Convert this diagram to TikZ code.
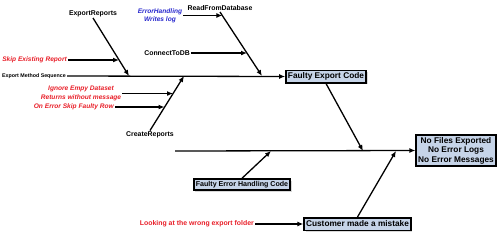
\documentclass[tikz,border=0pt]{standalone}
\usepackage{fontspec}
\setmainfont{Liberation Sans}
\usetikzlibrary{arrows.meta,shadows}
\definecolor{boxfill}{RGB}{198,212,232}
\definecolor{causered}{RGB}{232,30,40}
\definecolor{causeblue}{RGB}{40,40,205}

\begin{document}
\begin{tikzpicture}[x=1pt,y=-1pt,box/.style={draw=black,line width=1.5pt,fill=boxfill,align=center,
font=\fontsize{8.3}{9.6}\selectfont\bfseries,inner sep=2pt,minimum height=12.5pt,
drop shadow={shadow xshift=1.5pt,shadow yshift=-1.5pt,fill=black!30}},
lbl/.style={font=\fontsize{6.9}{8}\selectfont\bfseries,inner sep=1pt},
redlbl/.style={lbl,text=causered,font=\fontsize{6.6}{8.2}\selectfont\bfseries\itshape},
arr/.style={-{Latex[length=6pt,width=5pt]},line width=1.3pt}]
\useasboundingbox (0,0) rectangle (500,234);
% heads and cause boxes
\node[box] (fec) at (326,76.5) {Faulty Export Code};
\node[box] (effect) at (456,150.5) {No Files Exported\\No Error Logs\\No Error Messages};
\node[box,font=\fontsize{7.1}{8}\selectfont\bfseries,minimum height=11pt] (feh) at (242,184.5) {Faulty Error Handling Code};
\node[box] (cmm) at (357.5,224) {Customer made a mistake};
% spines
\node[lbl,font=\fontsize{5.3}{6}\selectfont\bfseries,anchor=east] (seq) at (67,76) {Export Method Sequence};
\coordinate (tail) at (175,151);
\draw[arr] (seq.east) -- (fec.west);
\draw[arr] (tail) -- (effect.west);
% branch end points
\coordinate (er-hit) at (129,76);\coordinate (rfd-hit) at (262,76);\coordinate (cr-hit) at (184,76);
\coordinate (skip-hit) at (119,60);\coordinate (eh-hit) at (222.3,15.5);\coordinate (ctdb-hit) at (247,53);
\coordinate (ign-hit) at (173,93.5);\coordinate (osf-hit) at (164.5,107);
\coordinate (fec-hit) at (363,151);\coordinate (feh-hit) at (271,151);\coordinate (cmm-hit) at (396,151);
% causes of the faulty export code
\node[lbl,above] (er) at (93,18) {ExportReports};
\node[lbl,above] (rfd) at (220,12) {ReadFromDatabase};
\node[lbl,below] (cr) at (150,130.5) {CreateReports};
\node[redlbl,anchor=east] (skip) at (68,60) {Skip Existing Report};
\node[redlbl,text=causeblue,align=center] (eh) at (160,15.5) {ErrorHandling\\Writes log};
\node[lbl,anchor=east] (ctdb) at (191,53) {ConnectToDB};
\node[redlbl,align=center] (ign) at (81,93.5) {Ignore Empy Dataset\\Returns without message};
\node[redlbl,anchor=east] (osf) at (115,107) {On Error Skip Faulty Row};
\node[lbl,text=causered,anchor=east] (look) at (255,224) {Looking at the wrong export folder};
\draw[arr] (er.south)--(er-hit);\draw[arr] (rfd.south)--(rfd-hit);\draw[arr] (cr.north)--(cr-hit);
\draw[arr] (skip.east)--(skip-hit);\draw[arr] (eh.east)--(eh-hit);\draw[arr] (ctdb.east)--(ctdb-hit);
\draw[arr] (ign.east)--(ign-hit);\draw[arr] (osf.east)--(osf-hit);
% causes of the effect
\draw[arr] (fec.south)--(fec-hit);\draw[arr] (feh.north)--(feh-hit);\draw[arr] (cmm.north)--(cmm-hit);
\draw[arr] (look.east)--(cmm.west);
\end{tikzpicture}
\end{document}
